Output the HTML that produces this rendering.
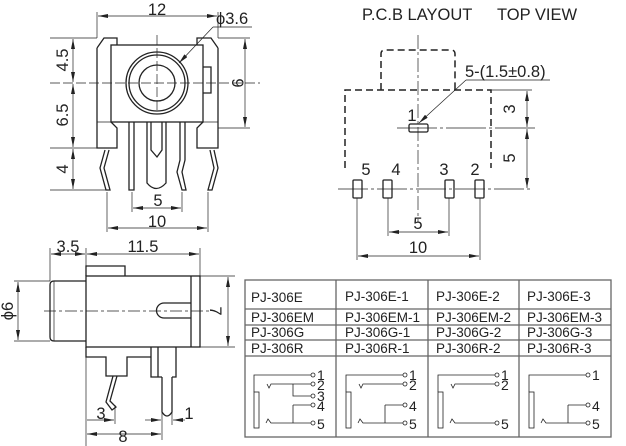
<!DOCTYPE html>
<html><head><meta charset="utf-8"><style>
html,body{margin:0;padding:0;background:#fff}
svg{display:block}
text{font-family:"Liberation Sans",Arial,sans-serif;fill:#222}
</style></head><body>
<svg width="626" height="446" viewBox="0 0 626 446" xmlns="http://www.w3.org/2000/svg">
<defs>
<marker id="a" viewBox="0 0 10 4" refX="10" refY="2" markerWidth="10" markerHeight="4" orient="auto-start-reverse" markerUnits="userSpaceOnUse"><path d="M0,0 L10,2 L0,4z" fill="#222"/></marker>
</defs>
<g stroke="#222" fill="none" stroke-width="1.3">
<!-- TOP VIEW -->
<g stroke-width="0.7">
<line x1="97" y1="12" x2="97" y2="38"/><line x1="218" y1="12" x2="218" y2="38"/>
<line x1="98" y1="16" x2="217" y2="16" marker-start="url(#a)" marker-end="url(#a)"/>
<line x1="50" y1="38" x2="97" y2="38"/><line x1="50" y1="83" x2="260" y2="83" stroke-dasharray="10,3"/>
<line x1="50" y1="148" x2="97" y2="148"/><line x1="50" y1="190" x2="107" y2="190"/>
<line x1="73" y1="39" x2="73" y2="82" marker-start="url(#a)" marker-end="url(#a)"/>
<line x1="73" y1="84" x2="73" y2="147" marker-start="url(#a)" marker-end="url(#a)"/>
<line x1="73" y1="149" x2="73" y2="189" marker-start="url(#a)" marker-end="url(#a)"/>
<line x1="218" y1="38" x2="250" y2="38"/><line x1="218" y1="128" x2="250" y2="128"/>
<line x1="245" y1="39" x2="245" y2="127" marker-start="url(#a)" marker-end="url(#a)"/>
<line x1="157" y1="35" x2="157" y2="110" stroke-dasharray="10,3"/>
<line x1="213" y1="27" x2="252" y2="27"/>
<line x1="213" y1="27" x2="179" y2="63" marker-end="url(#a)"/>
<line x1="107" y1="192" x2="107" y2="232"/><line x1="208" y1="192" x2="208" y2="232"/>
<line x1="132" y1="192" x2="132" y2="212"/><line x1="182" y1="192" x2="182" y2="212"/>
<line x1="133" y1="208" x2="181" y2="208" marker-start="url(#a)" marker-end="url(#a)"/>
<line x1="108" y1="228" x2="207" y2="228" marker-start="url(#a)" marker-end="url(#a)"/>
</g>
<path d="M97,48 L104,38 L117,38 L117,45 M97,48 L97,148 L117,148 L117,128 L111,122"/>
<path d="M218,48 L211,38 L197,38 L197,45 M218,48 L218,148 L197,148 L197,128 L203,122"/>
<rect x="111" y="45" width="92" height="77"/>
<path d="M203,67 L211,67 L211,93 L203,93"/>
<line x1="97" y1="122" x2="117" y2="122" stroke-width="0.7"/><line x1="197" y1="122" x2="218" y2="122" stroke-width="0.7"/>
<circle cx="157" cy="83" r="31"/><circle cx="157" cy="83" r="28"/><circle cx="157" cy="83" r="18"/>
<path d="M147,122 L147,183 Q156,194 166,183 L166,122 M151,122 L151,150 L157,157 L162,150 L162,122"/>
<path d="M129,122 L129,190 L134,190 L134,122"/>
<path d="M180,122 L180,160 L177,172 L182,190 L186,190 L182,172 L185,160 L185,122"/>
<path d="M105,150 L100,168 L106,190 L110,190 L104,168 L109,150"/>
<path d="M210,150 L214,168 L208,190 L212,190 L218,168 L214,150"/>

<!-- SIDE VIEW -->
<g stroke-width="0.7">
<line x1="50" y1="248" x2="50" y2="281"/><line x1="86" y1="248" x2="86" y2="446"/><line x1="200" y1="248" x2="200" y2="276"/>
<line x1="51" y1="254" x2="85" y2="254" marker-start="url(#a)" marker-end="url(#a)"/>
<line x1="87" y1="254" x2="199" y2="254" marker-start="url(#a)" marker-end="url(#a)"/>
<line x1="14" y1="281" x2="50" y2="281"/><line x1="14" y1="341" x2="50" y2="341"/>
<line x1="18" y1="282" x2="18" y2="340" marker-start="url(#a)" marker-end="url(#a)"/>
<line x1="200" y1="276" x2="235" y2="276"/><line x1="200" y1="347" x2="235" y2="347"/>
<line x1="228" y1="277" x2="228" y2="346" marker-start="url(#a)" marker-end="url(#a)"/>
<line x1="44" y1="311" x2="210" y2="311" stroke-dasharray="12,3,3,3"/>
<line x1="115" y1="405" x2="115" y2="424"/>
<line x1="87" y1="420" x2="114" y2="420" marker-end="url(#a)"/>
<line x1="162" y1="405" x2="162" y2="440"/><line x1="172" y1="405" x2="172" y2="425"/>
<line x1="87" y1="434" x2="161" y2="434" marker-start="url(#a)" marker-end="url(#a)"/>
<line x1="145" y1="420" x2="161" y2="420" marker-end="url(#a)"/>
<line x1="185" y1="420" x2="173" y2="420" marker-end="url(#a)"/>
</g>
<path d="M86,276 L86,266 L125,266 L125,276"/>
<rect x="86" y="276" width="114" height="71"/>
<line x1="191" y1="276" x2="191" y2="347"/>
<path d="M191,303 L164,303 A7,7 0 0 0 164,318 L191,318"/>
<path d="M86,281 L54,281 Q50,281 50,285 L50,337 Q50,341 54,341 L86,341"/>
<line x1="54" y1="281" x2="54" y2="341" stroke-width="0.7"/>
<path d="M86,347 L86,357 L106,357 L106,376 L127,376 L127,357 L151,357"/>
<path d="M151,347 L151,377 L162,377 M172,377 L176,377 L176,347 M158,347 L158,377"/>
<path d="M162,377 L162,412 Q167,420 172,412 L172,377"/>
<path d="M113,376 L106,402 L112,410 L116,407 L110,401 L117,376"/>

<!-- PCB -->
<g stroke-width="0.7">
<line x1="418" y1="35" x2="418" y2="222" stroke-dasharray="14,3,3,3"/>
<line x1="397" y1="128" x2="535" y2="128" stroke-dasharray="40,3,3,3"/>
<line x1="338" y1="189" x2="530" y2="189" stroke-dasharray="30,3,3,3"/>
<line x1="419" y1="123" x2="466" y2="80" marker-start="url(#a)"/>
<line x1="466" y1="80" x2="550" y2="80"/>
<line x1="491" y1="90" x2="532" y2="90"/>
<line x1="527" y1="91" x2="527" y2="127" marker-start="url(#a)" marker-end="url(#a)"/>
<line x1="527" y1="129" x2="527" y2="188" marker-start="url(#a)" marker-end="url(#a)"/>
<line x1="357" y1="198" x2="357" y2="260"/><line x1="480" y1="198" x2="480" y2="260"/>
<line x1="388" y1="198" x2="388" y2="236"/><line x1="449" y1="198" x2="449" y2="236"/>
<line x1="389" y1="232" x2="448" y2="232" marker-start="url(#a)" marker-end="url(#a)"/>
<line x1="358" y1="256" x2="479" y2="256" marker-start="url(#a)" marker-end="url(#a)"/>
</g>
<path d="M381,90 L381,54 Q381,50 385,50 L451,50 Q455,50 455,54 L455,90" stroke-dasharray="7,4" stroke-width="1.5"/>
<path d="M345,168 L345,90 L491,90 L491,168" stroke-dasharray="7,4" stroke-width="1.5"/>
<rect x="409" y="124" width="19" height="8" rx="1.5"/>
<rect x="353" y="180" width="9" height="18" rx="1"/><rect x="383" y="180" width="9" height="18" rx="1"/>
<rect x="445" y="180" width="9" height="18" rx="1"/><rect x="475" y="180" width="9" height="18" rx="1"/>

<!-- TABLE -->
<rect x="245" y="280" width="366" height="157" stroke="#666"/>
<g stroke="#666"><line x1="336" y1="280" x2="336" y2="437"/><line x1="428" y1="280" x2="428" y2="437"/><line x1="519" y1="280" x2="519" y2="437"/>
<line x1="245" y1="309" x2="611" y2="309"/><line x1="245" y1="325" x2="611" y2="325"/><line x1="245" y1="340" x2="611" y2="340"/><line x1="245" y1="356" x2="611" y2="356"/></g>
<g stroke-width="0.8">
<rect x="254" y="392" width="5" height="36"/><path d="M259,375 L254,375 L254,392"/><line x1="259" y1="375" x2="311" y2="375"/>
<path d="M267,384 L269,388 L271,384 L311,384 M293,384 L293,396 L311,396 M293,405 L311,405 M293,405 L293,423 M266,423 L268,419 L271,423 L311,423"/>
<circle cx="313" cy="375" r="2"/><circle cx="313" cy="384" r="2"/><circle cx="313" cy="396" r="2"/><circle cx="313" cy="405" r="2"/><circle cx="313" cy="423" r="2"/>
<rect x="346" y="392" width="5" height="36"/><path d="M351,375 L346,375 L346,392"/><line x1="351" y1="375" x2="403" y2="375"/>
<path d="M359,384 L361,388 L363,384 L403,384 M385,405 L403,405 M385,405 L385,423 M358,423 L360,419 L363,423 L403,423"/>
<circle cx="405" cy="375" r="2"/><circle cx="405" cy="384" r="2"/><circle cx="405" cy="405" r="2"/><circle cx="405" cy="423" r="2"/>
<rect x="438" y="392" width="5" height="36"/><path d="M443,375 L438,375 L438,392"/><line x1="443" y1="375" x2="495" y2="375"/>
<path d="M451,384 L453,388 L455,384 L495,384 M450,423 L452,419 L455,423 L495,423"/>
<circle cx="497" cy="375" r="2"/><circle cx="497" cy="384" r="2"/><circle cx="497" cy="423" r="2"/>
<rect x="529" y="392" width="5" height="36"/><path d="M534,375 L529,375 L529,392"/><line x1="534" y1="375" x2="586" y2="375"/>
<path d="M568,405 L586,405 M568,405 L568,423 M541,423 L543,419 L546,423 L586,423"/>
<circle cx="588" cy="375" r="2"/><circle cx="588" cy="405" r="2"/><circle cx="588" cy="423" r="2"/>
</g>
</g>

<g font-size="16.5">
<text x="157" y="15" text-anchor="middle">12</text>
<text x="216" y="24">ϕ3.6</text>
<text transform="translate(68,60) rotate(-90)" text-anchor="middle">4.5</text>
<text transform="translate(68,115) rotate(-90)" text-anchor="middle">6.5</text>
<text transform="translate(68,169) rotate(-90)" text-anchor="middle">4</text>
<text transform="translate(232,83) rotate(90)" text-anchor="middle">9</text>
<text x="158" y="206" text-anchor="middle">5</text>
<text x="157" y="227" text-anchor="middle">10</text>
<text x="68" y="252" text-anchor="middle">3.5</text>
<text x="143" y="252" text-anchor="middle">11.5</text>
<text transform="translate(13,311) rotate(-90)" text-anchor="middle">ϕ6</text>
<text transform="translate(210,311) rotate(90)" text-anchor="middle">7</text>
<text x="101" y="419" text-anchor="middle">3</text>
<text x="123" y="442" text-anchor="middle">8</text>
<text x="189" y="419" text-anchor="middle">1</text>
<text x="362" y="20">P.C.B LAYOUT</text><text x="497" y="20">TOP VIEW</text>
<text x="465" y="77">5-(1.5±0.8)</text>
<text x="412" y="121" text-anchor="middle">1</text>
<text x="366" y="175" text-anchor="middle">5</text><text x="396" y="175" text-anchor="middle">4</text>
<text x="444" y="175" text-anchor="middle">3</text><text x="475" y="175" text-anchor="middle">2</text>
<text transform="translate(515,109) rotate(-90)" text-anchor="middle">3</text>
<text transform="translate(515,158) rotate(-90)" text-anchor="middle">5</text>
<text x="418" y="229" text-anchor="middle">5</text>
<text x="418" y="253" text-anchor="middle">10</text>
</g>
<g font-size="13.5">
<text x="251" y="302">PJ-306E</text><text x="345" y="301">PJ-306E-1</text><text x="436" y="301">PJ-306E-2</text><text x="527" y="301">PJ-306E-3</text>
<text x="251" y="322">PJ-306EM</text><text x="345" y="322">PJ-306EM-1</text><text x="436" y="322">PJ-306EM-2</text><text x="527" y="322">PJ-306EM-3</text>
<text x="251" y="337">PJ-306G</text><text x="345" y="337">PJ-306G-1</text><text x="436" y="337">PJ-306G-2</text><text x="527" y="337">PJ-306G-3</text>
<text x="251" y="353">PJ-306R</text><text x="345" y="353">PJ-306R-1</text><text x="436" y="353">PJ-306R-2</text><text x="527" y="353">PJ-306R-3</text>
</g>
<g font-size="14">
<text x="317" y="380">1</text><text x="317" y="390">2</text><text x="317" y="401">3</text><text x="317" y="411">4</text><text x="317" y="429">5</text>
<text x="409" y="380">1</text><text x="409" y="390">2</text><text x="409" y="411">4</text><text x="409" y="429">5</text>
<text x="501" y="380">1</text><text x="501" y="390">2</text><text x="501" y="429">5</text>
<text x="592" y="380">1</text><text x="592" y="411">4</text><text x="592" y="429">5</text>
</g>
</svg>
</body></html>
